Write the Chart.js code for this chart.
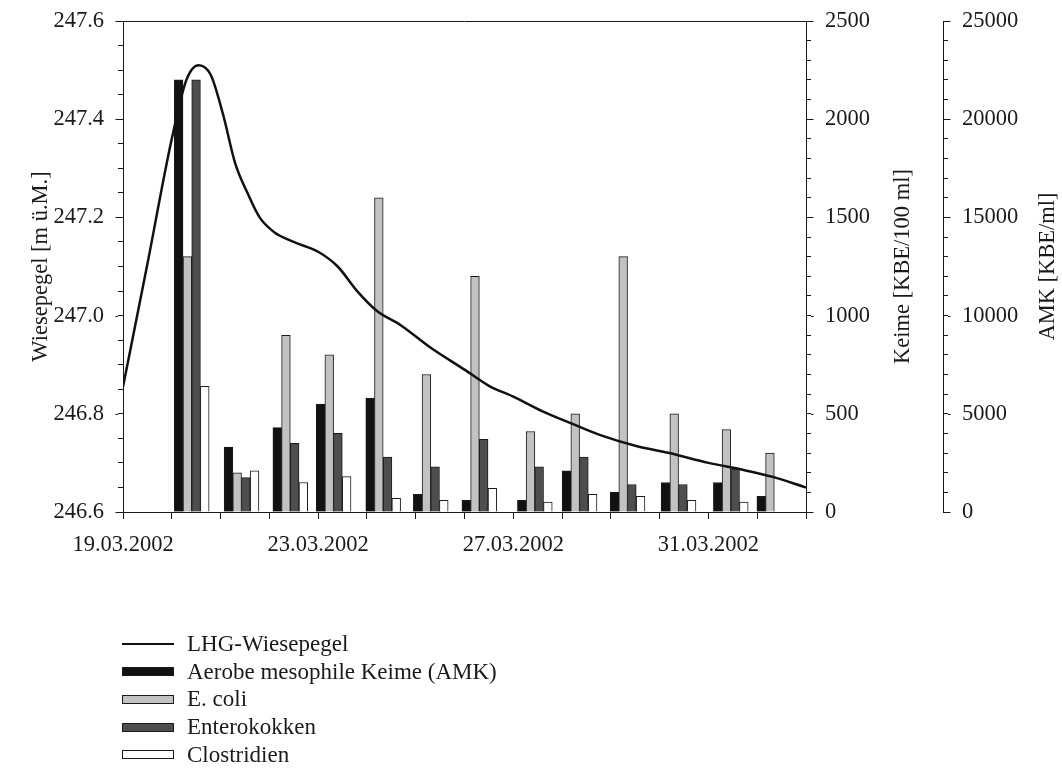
<!DOCTYPE html>
<html lang="de">
<head>
<meta charset="utf-8">
<title>Wiesepegel und Keime</title>
<script src="https://cdn.jsdelivr.net/npm/chart.js@4.4.1/dist/chart.umd.min.js"></script>
<style>
  html, body { margin: 0; padding: 0; background: #fff; }
  #wrap { position: relative; width: 1062px; height: 771px; }
  #chart { position: absolute; left: 0; top: 0; }
  #legende { position: absolute; left: 122px; top: 630px; font: 23px "Liberation Serif", "Times New Roman", serif; color: #1a1a1a; }
  .eintrag { display: flex; align-items: center; height: 27.75px; white-space: nowrap; }
  .symbol { width: 52px; height: 9px; box-sizing: border-box; margin-right: 13px; }
</style>
</head>
<body>
<div id="wrap">
  <canvas id="chart" width="1062" height="771"></canvas>
  <div id="legende"></div>
</div>
<script>
// x-Achse: Tage ab Startdatum
const startDatum = "19.03.2002";
const anzahlTage = 14;

// Probenahmen (Datum + ungefähre Uhrzeit in Stunden)
const probeDatum = [
  "20.03.2002", "21.03.2002", "22.03.2002", "23.03.2002", "24.03.2002",
  "25.03.2002", "26.03.2002", "27.03.2002", "28.03.2002", "29.03.2002",
  "30.03.2002", "31.03.2002", "01.04.2002",
];
const probeStunde = [9.8, 10.3, 10.3, 7.6, 8.0, 7.4, 7.3, 10.6, 8.6, 8.2, 9.3, 11.0, 8.4];

// Keime
const amk = [22000, 3300, 4300, 5500, 5800, 900, 600, 600, 2100, 1000, 1500, 1500, 800]; // KBE/ml
const eColi = [1300, 200, 900, 800, 1600, 700, 1200, 410, 500, 1300, 500, 420, 300]; // KBE/100 ml
const enterokokken = [2200, 175, 350, 400, 280, 230, 370, 230, 280, 140, 140, 220, null];
const clostridien = [640, 210, 150, 180, 70, 60, 120, 50, 90, 80, 60, 50, null];

// LHG-Wiesepegel (Tage ab Start, m ü.M.)
const pegelTag = [0, 0.5, 1.0, 1.3, 1.55, 1.8, 2.05, 2.3, 2.55, 2.8, 3.1, 3.5, 4.0, 4.4, 4.8,
  5.2, 5.7, 6.3, 7.0, 7.5, 8.0, 8.6, 9.2, 9.8, 10.5, 11.2, 12.0, 12.7, 13.3, 14.0];
const pegelWert = [246.855, 247.105, 247.36, 247.48, 247.51, 247.49, 247.41, 247.31, 247.25, 247.2,
  247.17, 247.15, 247.13, 247.1, 247.05, 247.01, 246.98, 246.935, 246.89, 246.857,
  246.835, 246.805, 246.78, 246.756, 246.735, 246.72, 246.7, 246.686, 246.672, 246.65];

const TEXT = "#1a1a1a";
const FONT = { family: '"Liberation Serif", "Times New Roman", serif', size: 22.5 };

function parseDatum(s) {
  const [d, m, y] = s.split(".").map(Number);
  return Date.UTC(y, m - 1, d);
}
const start = parseDatum(startDatum);
const tagDiff = (s) => (parseDatum(s) - start) / 86400000;

function datumText(tag) {
  const d = new Date(start + tag * 86400000);
  const zwei = (n) => String(n).padStart(2, "0");
  return `${zwei(d.getUTCDate())}.${zwei(d.getUTCMonth() + 1)}.${d.getUTCFullYear()}`;
}

const probeX = probeDatum.map((s, i) => tagDiff(s) + probeStunde[i] / 24);
const punkte = (werte) => werte.map((y, i) => ({ x: probeX[i], y }));

function balken(label, werte, farbe, achse) {
  return {
    type: "bar",
    label,
    data: punkte(werte),
    yAxisID: achse,
    backgroundColor: farbe,
    borderColor: TEXT,
    borderWidth: 1,
    barThickness: 8.7,
    order: 1,
  };
}

// Rahmen oben, längere Hauptstriche, Achsentitel rechts (von unten nach oben gelesen)
const rahmenUndTitel = {
  id: "rahmenUndTitel",
  afterDraw(chart) {
    const { ctx, chartArea: area } = chart;
    ctx.save();
    ctx.strokeStyle = TEXT;
    ctx.lineWidth = 1;
    ctx.beginPath();
    ctx.moveTo(area.left, Math.round(area.top) + 0.5);
    ctx.lineTo(area.right, Math.round(area.top) + 0.5);

    for (const id of ["y", "keime", "amk"]) {
      const s = chart.scales[id];
      const richtung = s.position === "left" ? -1 : 1;
      const x0 = (s.position === "left" ? s.right : s.left) + richtung * s.options.grid.tickLength;
      s.ticks.forEach((t) => {
        if (t.label === "") return;
        const y = Math.round(s.getPixelForValue(t.value)) + 0.5;
        ctx.moveTo(x0, y);
        ctx.lineTo(x0 + richtung * 2.5, y);
      });
    }
    ctx.stroke();

    ctx.fillStyle = TEXT;
    ctx.font = `${FONT.size}px ${FONT.family}`;
    ctx.textAlign = "center";
    ctx.textBaseline = "middle";
    const titel = [
      ["keime", "Keime [KBE/100 ml]", 40],
      ["amk", "AMK [KBE/ml]", 14],
    ];
    for (const [id, text, abstand] of titel) {
      const s = chart.scales[id];
      ctx.save();
      ctx.translate(s.right - abstand, (area.top + area.bottom) / 2);
      ctx.rotate(-Math.PI / 2);
      ctx.fillText(text, 0, 0);
      ctx.restore();
    }
    ctx.restore();
  },
};

const achse = (extra) => ({
  grid: { drawOnChartArea: false, color: TEXT, tickLength: 5 },
  border: { color: TEXT, width: 1 },
  ...extra,
});

// feste Breite, kein Extra-Rand oben/unten für die Beschriftung
const breite = (w) => (s) => {
  s.width = w;
  s.paddingTop = 0;
  s.paddingBottom = 0;
};

const chart = new Chart(document.getElementById("chart"), {
  type: "bar",
  data: {
    datasets: [
      {
        type: "line",
        label: "LHG-Wiesepegel",
        data: pegelTag.map((x, i) => ({ x, y: pegelWert[i] })),
        yAxisID: "y",
        borderColor: "#111",
        backgroundColor: "#111",
        borderWidth: 2.5,
        pointRadius: 0,
        cubicInterpolationMode: "monotone",
        order: 0,
      },
      balken("Aerobe mesophile Keime (AMK)", amk, "#111111", "amk"),
      balken("E. coli", eColi, "#c2c2c2", "keime"),
      balken("Enterokokken", enterokokken, "#4e4e4e", "keime"),
      balken("Clostridien", clostridien, "#ffffff", "keime"),
    ],
  },
  options: {
    responsive: false,
    animation: false,
    layout: { padding: { top: 21, left: 0, right: 0, bottom: 0 } },
    plugins: { legend: { display: false }, tooltip: { enabled: false } },
    scales: {
      x: achse({
        type: "linear",
        min: 0,
        max: anzahlTage,
        offset: false,
        grid: { drawOnChartArea: false, color: TEXT, tickLength: 7, offset: false },
        ticks: {
          stepSize: 1,
          autoSkip: false,
          maxRotation: 0,
          padding: 13,
          color: TEXT,
          font: FONT,
          callback: (v) => (v % 4 === 0 ? datumText(v) : ""),
        },
        afterFit: (s) => { s.height = 771 - 512; },
      }),
      y: achse({
        position: "left",
        min: 246.6,
        max: 247.6,
        ticks: {
          stepSize: 0.05,
          autoSkip: false,
          padding: 14,
          color: TEXT,
          font: FONT,
          callback: (v) => (Math.abs(v * 5 - Math.round(v * 5)) < 1e-6 ? v.toFixed(1) : ""),
        },
        title: { display: true, text: "Wiesepegel [m ü.M.]", color: TEXT, font: FONT, padding: { top: 28, bottom: 0 } },
        afterFit: breite(123),
      }),
      keime: achse({
        position: "right",
        weight: 0,
        min: 0,
        max: 2500,
        ticks: {
          stepSize: 100,
          autoSkip: false,
          padding: 14,
          color: TEXT,
          font: FONT,
          callback: (v) => (v % 500 === 0 ? v : ""),
        },
        afterFit: breite(137),
      }),
      amk: achse({
        position: "right",
        weight: 1,
        min: 0,
        max: 25000,
        ticks: {
          stepSize: 1000,
          autoSkip: false,
          padding: 14,
          color: TEXT,
          font: FONT,
          callback: (v) => (v % 5000 === 0 ? v : ""),
        },
        afterFit: breite(119),
      }),
    },
  },
  plugins: [rahmenUndTitel],
});

// Legende als Liste unter dem Diagramm
const legende = document.getElementById("legende");
chart.data.datasets.forEach((ds) => {
  const zeile = document.createElement("div");
  zeile.className = "eintrag";
  const sym = document.createElement("span");
  sym.className = "symbol";
  if (ds.type === "line") {
    sym.style.height = "2px";
    sym.style.background = ds.borderColor;
  } else {
    sym.style.background = ds.backgroundColor;
    sym.style.border = `1px solid ${ds.borderColor}`;
  }
  const txt = document.createElement("span");
  txt.textContent = ds.label;
  zeile.appendChild(sym);
  zeile.appendChild(txt);
  legende.appendChild(zeile);
});
</script>
</body>
</html>
